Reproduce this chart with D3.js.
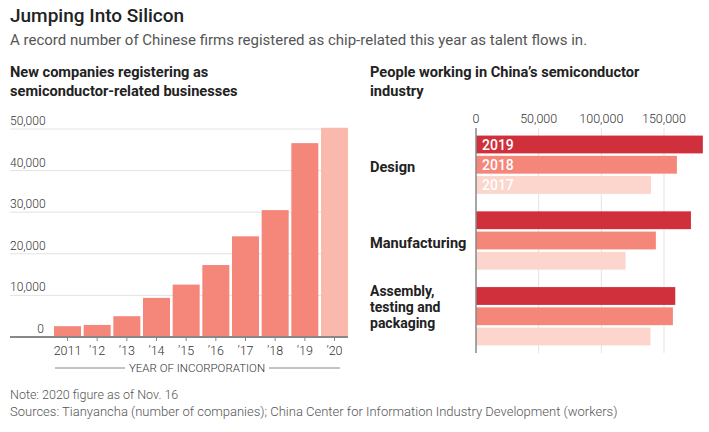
<!DOCTYPE html>
<html>
<head>
<meta charset="utf-8">
<script src="https://cdn.jsdelivr.net/npm/d3@7"></script>
<style>
  body { margin: 0; background: #fff; }
  text { font-family: Roboto, "Noto Sans", sans-serif; }
</style>
</head>
<body>
<div id="chart"></div>
<script>
// left panel: new companies by year of incorporation
const years = ["2011", "2012", "2013", "2014", "2015", "2016", "2017", "2018", "2019", "2020"];
const yearLabels = ["2011", "’12", "’13", "’14", "’15", "’16", "’17", "’18", "’19", "’20"];
const companies = [2600, 2900, 5000, 9400, 12600, 17300, 24200, 30500, 46600, 50300];
const companyTicks = [0, 10000, 20000, 30000, 40000, 50000];

// right panel: workers by segment
const segments = ["Design", "Manufacturing", "Assembly, testing and packaging"];
const segmentLines = [["Design"], ["Manufacturing"], ["Assembly,", "testing and", "packaging"]];
const workerYears = ["2019", "2018", "2017"];
const workers2019 = [181000, 171500, 159000];
const workers2018 = [160300, 143500, 157100];
const workers2017 = [139600, 119300, 139200];
const workerTicks = [0, 50000, 100000, 150000];

const width = 709, height = 432;
const salmon = "#f4867a", salmonLight = "#f9b9ad";
const yearColors = { "2019": "#d0303b", "2018": "#f4877a", "2017": "#fcd6cc" };

const svg = d3.select("#chart").append("svg")
  .attr("width", width).attr("height", height);

// titles
svg.append("text").attr("x", 10).attr("y", 22)
  .attr("font-size", 19).attr("font-weight", 500).attr("fill", "#222")
  .text("Jumping Into Silicon");
svg.append("text").attr("x", 10).attr("y", 45)
  .attr("font-size", 15).attr("fill", "#555")
  .text("A record number of Chinese firms registered as chip-related this year as talent flows in.");

const subTitle = (x, lines) => {
  lines.forEach((l, i) => {
    svg.append("text").attr("x", x).attr("y", 77 + i * 19)
      .attr("font-size", 14.6).attr("font-weight", 700).attr("fill", "#222")
      .text(l);
  });
};
subTitle(10, ["New companies registering as", "semiconductor-related businesses"]);
subTitle(370, ["People working in China’s semiconductor", "industry"]);

// #region left chart
const xScale = d3.scaleBand().domain(years).range([54, 348])
  .paddingInner(0.09).paddingOuter(0);
const yScale = d3.scaleLinear().domain([0, 50000]).range([337, 129]);

const left = svg.append("g");
left.selectAll(".grid").data(companyTicks.slice(1)).join("line")
  .attr("x1", 10).attr("x2", 348)
  .attr("y1", (d) => yScale(d)).attr("y2", (d) => yScale(d))
  .attr("stroke", "#e3e3e3").attr("stroke-width", 1);

left.selectAll(".tick-label").data(companyTicks).join("text")
  .attr("x", (d) => (d === 0 ? 44 : 10))
  .attr("text-anchor", (d) => (d === 0 ? "end" : "start"))
  .attr("y", (d) => yScale(d) - 4)
  .attr("font-size", 12).attr("font-weight", 300).attr("fill", "#333")
  .text((d) => d3.format(",")(d));

left.selectAll(".bar").data(years).join("rect")
  .attr("x", (d) => xScale(d))
  .attr("width", xScale.bandwidth())
  .attr("y", (d, i) => yScale(companies[i]))
  .attr("height", (d, i) => yScale(0) - yScale(companies[i]))
  .attr("fill", (d) => (d === "2020" ? salmonLight : salmon));

left.append("line").attr("x1", 10).attr("x2", 348)
  .attr("y1", 337).attr("y2", 337)
  .attr("stroke", "#888").attr("stroke-width", 2);

const xAxis = d3.axisBottom(xScale).tickSize(4)
  .tickFormat((d, i) => yearLabels[i]);
const gx = left.append("g").attr("transform", "translate(0,337)").call(xAxis);
gx.select(".domain").remove();
gx.selectAll(".tick line").attr("stroke", "#888");
gx.selectAll(".tick text").attr("font-size", 12.5).attr("font-weight", 300)
  .attr("fill", "#333").attr("dy", "0.9em")
  .style("font-family", "Roboto, 'Noto Sans', sans-serif");

svg.append("text").attr("x", 197).attr("y", 372).attr("text-anchor", "middle")
  .attr("font-size", 11.5).attr("font-weight", 300).attr("fill", "#333")
  .text("YEAR OF INCORPORATION");
[[55, 125], [269, 340]].forEach(([a, b]) => {
  svg.append("line").attr("x1", a).attr("x2", b).attr("y1", 368).attr("y2", 368)
    .attr("stroke", "#888").attr("stroke-width", 1);
});
// #endregion left chart

// #region right chart
const wx = d3.scaleLinear().domain([0, 150000]).range([476, 664]);
const gy = d3.scaleBand().domain(segments).range([128, 353])
  .paddingInner(0.23).paddingOuter(0.1);
const by = d3.scaleBand().domain(workerYears).range([0, gy.bandwidth()])
  .paddingInner(0.12).paddingOuter(0);

const right = svg.append("g");
right.selectAll(".wgrid").data(workerTicks.slice(1)).join("line")
  .attr("x1", (d) => wx(d)).attr("x2", (d) => wx(d))
  .attr("y1", 128).attr("y2", 353)
  .attr("stroke", "#e3e3e3");

right.selectAll(".wtick").data(workerTicks).join("text")
  .attr("x", (d) => wx(d)).attr("y", 123).attr("text-anchor", "middle")
  .attr("font-size", 12.5).attr("font-weight", 300).attr("fill", "#333")
  .text((d) => d3.format(",")(d));

const workerValues = { "2019": workers2019, "2018": workers2018, "2017": workers2017 };
const rows = [];
segments.forEach((s, i) => {
  workerYears.forEach((y) => rows.push({ segment: s, year: y, value: workerValues[y][i], first: i === 0 }));
});

right.selectAll(".wbar").data(rows).join("rect")
  .attr("x", wx(0))
  .attr("y", (d) => gy(d.segment) + by(d.year))
  .attr("width", (d) => wx(d.value) - wx(0))
  .attr("height", by.bandwidth())
  .attr("fill", (d) => yearColors[d.year]);

right.selectAll(".wyear").data(rows.filter((d) => d.first)).join("text")
  .attr("x", wx(0) + 6)
  .attr("y", (d) => gy(d.segment) + by(d.year) + by.bandwidth() / 2)
  .attr("dy", "0.36em")
  .attr("font-size", 14).attr("font-weight", 500).attr("fill", "#fff")
  .text((d) => d.year);

right.append("line").attr("x1", wx(0)).attr("x2", wx(0))
  .attr("y1", 128).attr("y2", 353)
  .attr("stroke", "#888").attr("stroke-width", 1.5);

segments.forEach((s, i) => {
  const lines = segmentLines[i];
  const multi = lines.length > 1;
  const c = gy(s) + gy.bandwidth() / 2 - (multi ? 9 : -2);
  lines.forEach((l, j) => {
    svg.append("text").attr("x", 370)
      .attr("y", c + (j - (lines.length - 1) / 2) * 16)
      .attr("dy", "0.36em")
      .attr("font-size", multi ? 14 : 14.6).attr("font-weight", 700).attr("fill", "#222")
      .text(l);
  });
});
// #endregion right chart

// notes
svg.append("text").attr("x", 10).attr("y", 399)
  .attr("font-size", 12.5).attr("font-weight", 300).attr("fill", "#555")
  .text("Note: 2020 figure as of Nov. 16");
svg.append("text").attr("x", 10).attr("y", 416)
  .attr("font-size", 13).attr("font-weight", 300).attr("fill", "#555")
  .text("Sources:  Tianyancha (number of companies); China Center for Information Industry Development (workers)");
</script>
</body>
</html>
